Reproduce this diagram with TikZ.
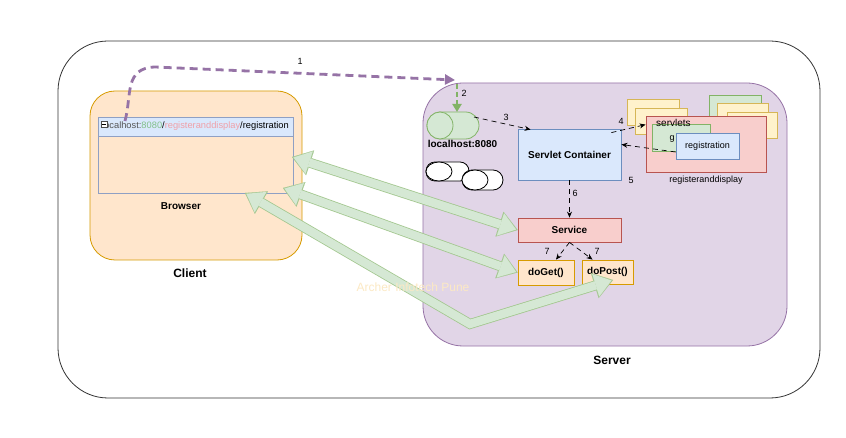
\documentclass[tikz,border=0pt]{standalone}
\usepackage{fontspec}
\setmainfont{Liberation Sans}
\usetikzlibrary{arrows.meta,calc}

\definecolor{orangeF}{HTML}{FFE6CC}
\definecolor{orangeS}{HTML}{D79B00}
\definecolor{blueF}{HTML}{DAE8FC}
\definecolor{blueS}{HTML}{6C8EBF}
\definecolor{redF}{HTML}{F8CECC}
\definecolor{redS}{HTML}{B85450}
\definecolor{greenF}{HTML}{D5E8D4}
\definecolor{greenS}{HTML}{82B366}
\definecolor{purpleF}{HTML}{E1D5E7}
\definecolor{purpleS}{HTML}{9673A6}
\definecolor{yellowF}{HTML}{FFF2CC}
\definecolor{yellowS}{HTML}{D6B656}
\definecolor{winS}{HTML}{8FA0C4}
\definecolor{urlGreen}{HTML}{82C08A}
\definecolor{urlPink}{HTML}{F0A0A8}
\definecolor{urlGray}{HTML}{555555}
\definecolor{mark}{HTML}{FCE9C4}
\definecolor{flexEdge}{HTML}{A3C78F}

\tikzset{
  frame/.style={draw=black!80, line width=0.8pt, rounded corners=50pt},
  box/.style={rectangle, draw, line width=0.8pt, inner sep=0pt,
    font=\bfseries\fontsize{10}{12}\selectfont},
  plainbox/.style={rectangle, draw, line width=0.8pt, inner sep=0pt},
  txt/.style={inner sep=0pt, font=\fontsize{9}{11}\selectfont},
  boldtxt/.style={inner sep=0pt, font=\bfseries\fontsize{10}{12}\selectfont},
  bigtxt/.style={inner sep=0pt, font=\bfseries\fontsize{12}{14}\selectfont},
  conn/.style={draw=black, line width=0.7pt, dash pattern=on 5pt off 4pt,
    -{Stealth[length=6pt,width=5pt]}},
  flexout/.style={draw=flexEdge, line width=10pt, line join=miter,
    {Triangle[length=19pt 0 0,width=26pt 0 0,line width=0.01pt]}-{Triangle[length=19pt 0 0,width=26pt 0 0,line width=0.01pt]}},
  flexin/.style={draw=greenF, line width=8.4pt, line join=miter,
    shorten <=1.6pt, shorten >=1.6pt,
    {Triangle[length=16.4pt 0 0,width=23.4pt 0 0,line width=0.01pt]}-{Triangle[length=16.4pt 0 0,width=23.4pt 0 0,line width=0.01pt]}},
}

\newcommand\flexarrow[1]{\draw[flexout] #1; \draw[flexin] #1;}

\begin{document}
\begin{tikzpicture}[x=1pt,y=-1pt]
\useasboundingbox (0,0) rectangle (846,438);
\fill[white] (0,0) rectangle (846,438);

% outer frame
\draw[frame] (58,41) rectangle (820,398);

% ---------- client side ----------
\draw[draw=orangeS, fill=orangeF, line width=0.8pt, rounded corners=25pt]
  (90,91) rectangle (302,260);
\node[bigtxt] (client) at (190,273) {Client};

% browser window
\node[plainbox, draw=winS, minimum width=195pt, minimum height=57pt]
  (browser) at (195.5,164.5) {};
\node[plainbox, draw=winS, fill=blueF, minimum width=195pt, minimum height=19pt]
  (urlbar) at (195.5,126.5) {};
\node[txt, anchor=west, font=\fontsize{9.3}{11}\selectfont] (url) at (102,126.5)
  {\textcolor{urlGray}{localhost:}\textcolor{urlGreen}{8080}/\textcolor{urlPink}{registeranddisplay}/registration};
\draw[draw=black!70, fill=white, line width=0.6pt] (101,121) rectangle (107,127);
\draw[black, line width=0.9pt] (102.3,124) -- (105.7,124);
\node[boldtxt] (browserlbl) at (181,206) {Browser};

% ---------- server side ----------
\draw[draw=purpleS, fill=purpleF, line width=0.8pt, rounded corners=40pt]
  (423,83) rectangle (787,346);
\node[bigtxt] (server) at (612,360) {Server};

% listener cylinder
\draw[draw=greenS, fill=greenF, line width=0.8pt, rounded corners=13.5pt]
  (427,112) rectangle (479,139);
\draw[draw=greenS, fill=greenF, line width=0.8pt]
  (440,125.5) ellipse [x radius=13pt, y radius=13.5pt];
\coordinate (lhtop) at (457,112);
\coordinate (lhright) at (474,117);
\node[boldtxt] (lhlbl) at (462.5,144) {localhost:8080};

% idle cylinders
\draw[draw=black, fill=white, line width=0.8pt, rounded corners=9pt]
  (426,162) rectangle (469,181);
\draw[draw=black, fill=white, line width=0.8pt]
  (439,171.5) ellipse [x radius=13pt, y radius=9.5pt];
\draw[draw=black, fill=white, line width=0.8pt, rounded corners=10pt]
  (462,170) rectangle (503,190);
\draw[draw=black, fill=white, line width=0.8pt]
  (475,180) ellipse [x radius=13pt, y radius=10pt];

% container and service methods
\node[box, draw=blueS, fill=blueF, minimum width=103pt, minimum height=51pt]
  (sc) at (569.5,154.5) {Servlet Container};
\node[box, draw=redS, fill=redF, minimum width=103pt, minimum height=24pt]
  (svc) at (569.5,230) {Service};
\node[box, draw=orangeS, fill=orangeF, minimum width=56pt, minimum height=25pt]
  (doget) at (546,272.5) {doGet()};
\node[box, draw=orangeS, fill=orangeF, minimum width=51pt, minimum height=24pt]
  (dopost) at (607.5,272) {doPost()};

% deployed applications
\node[plainbox, draw=yellowS, fill=yellowF, minimum width=52pt, minimum height=26pt] (ya) at (653,112) {};
\node[plainbox, draw=yellowS, fill=yellowF, minimum width=52pt, minimum height=26pt] (yb) at (661,121) {};
\node[plainbox, draw=greenS, fill=greenF, minimum width=52pt, minimum height=26pt] (gc) at (735,108) {};
\node[plainbox, draw=yellowS, fill=yellowF, minimum width=51pt, minimum height=26pt] (yd) at (742.5,116) {};
\node[plainbox, draw=yellowS, fill=yellowF, minimum width=50pt, minimum height=26pt] (ye) at (752,125) {};
\node[plainbox, draw=redS, fill=redF, minimum width=120pt, minimum height=56pt] (rd) at (706,144) {};
\node[plainbox, draw=greenS, fill=greenF, minimum width=58pt, minimum height=27pt] (gs) at (681,137.5) {};
\node[inner sep=0pt, anchor=west, font=\fontsize{10}{12}\selectfont] (servlets) at (656,122.5) {servlets};
\node[txt] (gtxt) at (672,139) {g};
\node[plainbox, draw=blueS, fill=blueF, minimum width=63pt, minimum height=26pt,
  font=\fontsize{9}{11}\selectfont] (reg) at (707.5,146) {registration};
\node[txt] (rdlbl) at (706,180) {registeranddisplay};

% ---------- request / response flow ----------
\coordinate (bA) at (292,157);
\coordinate (bB) at (283,188);
\coordinate (bC) at (245,193);
\coordinate (bend) at (470,324);
\coordinate (pC) at (613,280);
\flexarrow{(bA) -- (svc.west)}
\flexarrow{(bB) -- (doget.west)}
\flexarrow{(bC) -- (bend) -- (pC)}

% watermark
\node[inner sep=0pt, text=mark, font=\fontsize{12}{14}\selectfont] (wm) at (413,287) {Archer Infotech Pune};

% numbered steps
\coordinate (urlstart) at (125,121);
\coordinate (srvin) at (455,80);
\draw[draw=purpleS, line width=2.8pt, dash pattern=on 8pt off 5pt,
  -{Triangle[length=10pt,width=10pt]}]
  (urlstart) .. controls (132,95) and (124,68) .. (155,67) -- (srvin);
\draw[draw=greenS, line width=2pt, dash pattern=on 5pt off 3pt,
  -{Triangle[length=8pt,width=9pt]}] (457,84) -- (lhtop);

\draw[conn] (lhright) -- ($(sc.north west)+(13,1)$);
\draw[conn] ($(sc.north east)+(-10,4)$) -- ($(rd.north west)+(0,9)$);
\draw[conn] ($(reg.west)+(0,6)$) -- ($(sc.east)+(0,-10)$);
\draw[conn] (sc.south) -- (svc.north);
\draw[conn] (svc.south) -- ($(doget.north)+(10,0)$);
\draw[conn] (svc.south) -- ($(dopost.north)+(-15,0)$);

\node[txt] (n1) at (300,61) {1};
\node[txt] (n2) at (464,93) {2};
\node[txt] (n3) at (506,117) {3};
\node[txt] (n4) at (621,121) {4};
\node[txt] (n5) at (631,180) {5};
\node[txt] (n6) at (575,193) {6};
\node[txt] (n7a) at (547,251) {7};
\node[txt] (n7b) at (597,251) {7};
\end{tikzpicture}
\end{document}
